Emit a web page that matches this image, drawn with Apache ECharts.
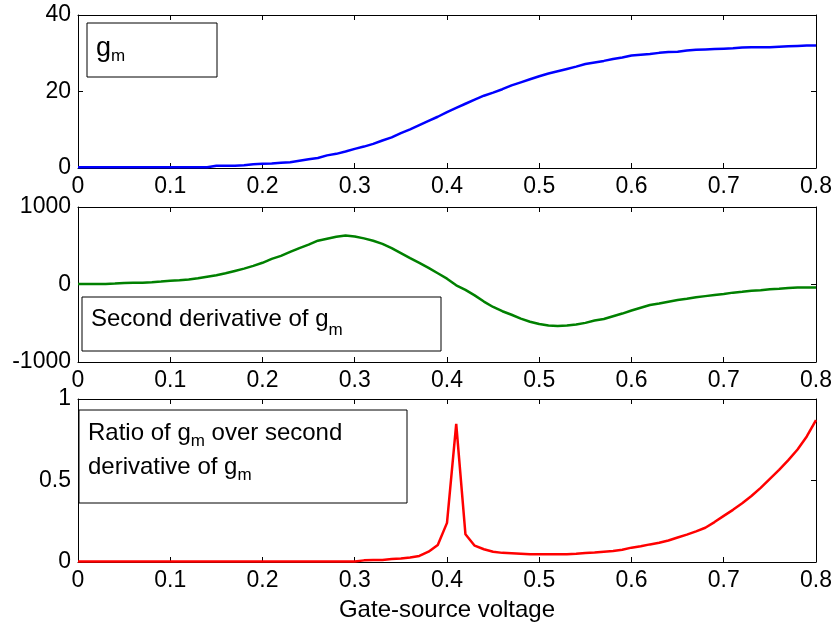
<!DOCTYPE html>
<html>
<head>
    <meta charset="utf-8"/>
    <title>gm</title>
    <script src="https://cdn.jsdelivr.net/npm/echarts@6/dist/echarts.min.js"></script>
    <style>
        html, body { margin: 0; padding: 0; background: #fff; }
        #main { width: 835px; height: 624px; }
    </style>
</head>
<body>
<div id="main"></div>
<script>
    // gate-source voltage, 0.01 V steps
    var voltage = [0.00, 0.01, 0.02, 0.03, 0.04, 0.05, 0.06, 0.07, 0.08, 0.09,
        0.10, 0.11, 0.12, 0.13, 0.14, 0.15, 0.16, 0.17, 0.18, 0.19,
        0.20, 0.21, 0.22, 0.23, 0.24, 0.25, 0.26, 0.27, 0.28, 0.29,
        0.30, 0.31, 0.32, 0.33, 0.34, 0.35, 0.36, 0.37, 0.38, 0.39,
        0.40, 0.41, 0.42, 0.43, 0.44, 0.45, 0.46, 0.47, 0.48, 0.49,
        0.50, 0.51, 0.52, 0.53, 0.54, 0.55, 0.56, 0.57, 0.58, 0.59,
        0.60, 0.61, 0.62, 0.63, 0.64, 0.65, 0.66, 0.67, 0.68, 0.69,
        0.70, 0.71, 0.72, 0.73, 0.74, 0.75, 0.76, 0.77, 0.78, 0.79, 0.80];

    var gm = [0.2, 0.2, 0.2, 0.2, 0.2, 0.2, 0.2, 0.2, 0.2, 0.2,
        0.2, 0.2, 0.2, 0.2, 0.2, 0.6, 0.6, 0.6, 0.7, 1.0,
        1.1, 1.2, 1.4, 1.5, 1.9, 2.3, 2.6, 3.3, 3.7, 4.3,
        5.0, 5.6, 6.3, 7.2, 8.0, 9.1, 10.1, 11.2, 12.3, 13.4,
        14.6, 15.7, 16.8, 17.9, 18.9, 19.7, 20.6, 21.6, 22.4, 23.2,
        24.0, 24.7, 25.3, 25.9, 26.5, 27.2, 27.6, 28.0, 28.5, 28.9,
        29.4, 29.6, 29.8, 30.1, 30.3, 30.4, 30.7, 30.9, 31.0, 31.1,
        31.2, 31.3, 31.5, 31.6, 31.6, 31.6, 31.7, 31.8, 31.9, 32.0, 32.0];

    var gm2 = [5, 5, 6, 8, 12, 20, 22, 24, 30, 38,
        48, 55, 65, 80, 100, 120, 145, 175, 205, 240,
        280, 330, 370, 420, 470, 515, 565, 590, 615, 632,
        620, 595, 565, 525, 470, 405, 340, 280, 215, 145,
        75, -10, -70, -140, -220, -290, -345, -390, -440, -480,
        -510, -530, -535, -530, -515, -495, -465, -445, -410, -375,
        -335, -300, -265, -245, -222, -200, -185, -165, -150, -135,
        -122, -105, -95, -80, -75, -62, -55, -45, -38, -38, -38];

    var ratio = [0.003, 0.003, 0.003, 0.003, 0.003, 0.003, 0.003, 0.003, 0.003, 0.003,
        0.003, 0.003, 0.003, 0.003, 0.003, 0.003, 0.003, 0.003, 0.003, 0.003,
        0.003, 0.003, 0.003, 0.003, 0.003, 0.003, 0.003, 0.003, 0.003, 0.003,
        0.003, 0.010, 0.012, 0.013, 0.018, 0.022, 0.028, 0.037, 0.063, 0.104,
        0.240, 0.847, 0.170, 0.100, 0.078, 0.063, 0.056, 0.053, 0.050, 0.047,
        0.047, 0.047, 0.047, 0.047, 0.050, 0.055, 0.058, 0.063, 0.067, 0.075,
        0.088, 0.097, 0.108, 0.118, 0.132, 0.150, 0.168, 0.188, 0.210, 0.245,
        0.283, 0.320, 0.360, 0.405, 0.455, 0.510, 0.565, 0.625, 0.690, 0.770, 0.870];

    var yRanges = [[0, 40, 20], [-1000, 1000, 1000], [0, 1, 0.5]];
    var lineColors = ['#0000ff', '#008000', '#ff0000'];

    var font = "'Liberation Sans', Arial, sans-serif";

    function pairs(ys) {
        return voltage.map(function (x, i) { return [x, ys[i]]; });
    }

    var grids = [
        {left: 78, right: 19, top: 15, height: 153},
        {left: 78, right: 19, top: 207, height: 155},
        {left: 78, right: 19, top: 399, height: 163}
    ];

    var xAxes = [], yAxes = [];
    for (var i = 0; i < 3; i++) {
        var common = {
            type: 'value',
            gridIndex: i,
            axisLine: {show: true, onZero: false, lineStyle: {color: '#000', width: 1}},
            axisTick: {show: true, inside: true, length: 5, lineStyle: {color: '#000'}},
            splitLine: {show: false},
            axisLabel: {
                color: '#000', fontSize: 23, fontFamily: font, margin: 7,
                formatter: function (v) { return String(v); }
            }
        };
        var xb = Object.assign({}, common, {position: 'bottom', min: 0, max: 0.8, interval: 0.1});
        if (i === 2) {
            xb.name = 'Gate-source voltage';
            xb.nameLocation = 'middle';
            xb.nameGap = 36;
            xb.nameTextStyle = {color: '#000', fontSize: 24, fontFamily: font};
        }
        var xt = Object.assign({}, common, {position: 'top', min: 0, max: 0.8, interval: 0.1, axisLabel: {show: false}});
        var yl = Object.assign({}, common, {position: 'left', min: yRanges[i][0], max: yRanges[i][1], interval: yRanges[i][2]});
        var yr = Object.assign({}, common, {position: 'right', min: yRanges[i][0], max: yRanges[i][1], interval: yRanges[i][2], axisLabel: {show: false}});
        xAxes.push(xb, xt);
        yAxes.push(yl, yr);
    }

    var seriesData = [gm, gm2, ratio];
    var series = seriesData.map(function (d, i) {
        return {
            type: 'line',
            xAxisIndex: i * 2,
            yAxisIndex: i * 2,
            data: pairs(d),
            showSymbol: false,
            lineStyle: {color: lineColors[i], width: 2.5},
            itemStyle: {color: lineColors[i]}
        };
    });

    // base text + subscript, subscript pushed down by a short line box at the bottom
    function richStyle(fs, lh, slh) {
        return {
            b: {fontSize: fs, fontFamily: font, color: '#000', lineHeight: lh, verticalAlign: 'middle'},
            s: {fontSize: 17, fontFamily: font, color: '#000', lineHeight: slh, verticalAlign: 'bottom'}
        };
    }

    var graphics = [
        {type: 'rect', shape: {x: 87, y: 23, width: 130, height: 54}, style: {fill: '#fff', stroke: '#000', lineWidth: 1}, z: 100},
        {type: 'text', x: 96, y: 33, z: 101, style: {text: '{b|g}{s|m}', rich: richStyle(27, 32, 9)}},
        {type: 'rect', shape: {x: 82, y: 297, width: 359, height: 54}, style: {fill: '#fff', stroke: '#000', lineWidth: 1}, z: 100},
        {type: 'text', x: 91, y: 299, z: 101, style: {text: '{b|Second derivative of g}{s|m}', rich: richStyle(24, 40, 10)}},
        {type: 'rect', shape: {x: 79, y: 410, width: 328, height: 93}, style: {fill: '#fff', stroke: '#000', lineWidth: 1}, z: 100},
        {type: 'text', x: 88, y: 416, z: 101, style: {
            text: '{b|Ratio of g}{s|m}{b| over second}\n{b|derivative of g}{s|m}',
            rich: richStyle(24, 34, 8)
        }}
    ];

    var chart = echarts.init(document.getElementById('main'));
    chart.setOption({
        animation: false,
        backgroundColor: '#fff',
        grid: grids,
        xAxis: xAxes,
        yAxis: yAxes,
        series: series,
        graphic: graphics
    });
</script>
</body>
</html>
